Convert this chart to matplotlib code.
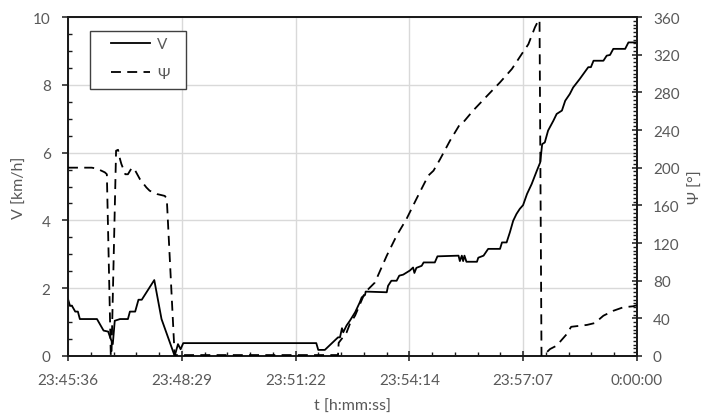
import matplotlib
matplotlib.use("Agg")
import matplotlib.pyplot as plt
from matplotlib.ticker import MultipleLocator, FuncFormatter
from matplotlib.patches import Rectangle
import numpy as np

plt.rcParams['font.family'] = ['Lato', 'DejaVu Sans']

# time origin: 23:45:36 (seconds after midnight)
t0_sec = 23 * 3600 + 45 * 60 + 36

# Speed V [km/h]; times in seconds after 23:45:36
t_v = [0, 3, 6, 11, 15, 18, 44, 54, 61, 64, 68, 71, 79, 91, 94, 102, 107, 112, 131, 142,
       162, 167, 171, 175, 377, 380, 390, 410, 413, 416, 418, 423, 428, 436, 443, 446, 451, 452,
       484, 486, 491, 499, 503, 509, 519, 524, 526, 529, 537, 540, 557, 561, 593, 595, 598, 600,
       602, 605, 621, 623, 631, 638, 656, 659, 666, 671, 676, 681, 686, 691, 697, 704, 712, 717,
       720, 724, 729, 737, 742, 750, 755, 762, 767, 777, 790, 794, 798, 813, 818, 823, 828, 846,
       851, 864]
v_kmh = [1.68, 1.48, 1.48, 1.31, 1.31, 1.09, 1.09, 0.75, 0.72, 0.55, 0.35, 1.04, 1.09, 1.09, 1.31,
         1.31, 1.66, 1.66, 2.24, 1.09, 0.0, 0.35, 0.2, 0.38, 0.38, 0.18, 0.18, 0.55, 0.55, 0.82, 0.7,
         0.9, 1.04, 1.29, 1.58, 1.73, 1.8, 1.9, 1.88, 2.07, 2.22, 2.22, 2.37, 2.4, 2.52, 2.61, 2.45,
         2.6, 2.66, 2.76, 2.76, 2.94, 2.96, 2.8, 2.96, 2.8, 2.96, 2.78, 2.78, 2.9, 2.96, 3.16, 3.16,
         3.35, 3.35, 3.65, 3.99, 4.19, 4.34, 4.45, 4.78, 5.07, 5.47, 5.71, 6.25, 6.3, 6.65, 6.94,
         7.14, 7.24, 7.53, 7.73, 7.92, 8.17, 8.52, 8.52, 8.71, 8.71, 8.86, 8.88, 9.06, 9.06, 9.25,
         9.25]

# Heading Psi [deg]; times in seconds after 23:45:36
t_psi = [0, 36, 44, 56, 59, 65, 66, 73, 76, 79, 81, 87, 91, 97, 102, 109, 119, 124, 135, 147, 150,
         162, 164, 410, 411, 423, 428, 436, 451, 456, 466, 484, 499, 514, 529, 547, 555, 565, 580,
         595, 600, 615, 636, 656, 674, 689, 699, 709, 714, 716, 719, 724, 732, 742, 757, 764, 788,
         800, 813, 828, 843, 858, 864]
psi_deg = [200, 200, 199, 195, 193, 0, 0, 218, 219, 209, 204, 193, 193, 200, 197, 188, 179, 175.5,
           172, 170, 167, 0, 1, 1, 14, 25, 34, 43, 67.6, 71, 78, 106.5, 127.8, 145.5, 166.7, 191.5,
           196.8, 209, 228.6, 246, 248, 260.5, 276, 290.6, 304.8, 320.7, 331, 349, 356, 357, 0, 2,
           7.4, 11, 23, 31, 33, 35, 42.8, 48, 51.7, 52.8, 54]

x_label = "t [h:mm:ss]"
y_label_left = "V [km/h]"
y_label_right = "Ψ [°]"
legend_labels = ["V", "Ψ"]

def to_day(ts):
    return (t0_sec + np.asarray(ts, dtype=float)) / 86400.0

def fmt_time(x, pos=None):
    s = int(round(x * 86400)) % 86400
    h, rem = divmod(s, 3600)
    m, sec = divmod(rem, 60)
    return f"{h}:{m:02d}:{sec:02d}"

label_color = '#595959'
W, H = 704, 414
L, R, T, B = 68, 637, 18, 357
fig = plt.figure(figsize=(W / 100, H / 100), dpi=100)
ax = fig.add_axes([L / W, 1 - B / H, (R - L) / W, (B - T) / H])
ax2 = ax.twinx()

l1, = ax.plot(to_day(t_v), v_kmh, color='black', lw=1.3, solid_joinstyle='round', zorder=3)
l2, = ax2.plot(to_day(t_psi), psi_deg, color='black', lw=1.3, dashes=(5.5, 3.5), zorder=3)

ax.set_xlim(0.99, 1.0)
ax.set_ylim(0, 10)
ax2.set_ylim(0, 360)

ax.xaxis.set_major_locator(MultipleLocator(0.002))
ax.xaxis.set_minor_locator(MultipleLocator(0.0004))
ax.xaxis.set_major_formatter(FuncFormatter(fmt_time))
ax.yaxis.set_major_locator(MultipleLocator(2))
ax.yaxis.set_minor_locator(MultipleLocator(0.5))
ax2.yaxis.set_major_locator(MultipleLocator(40))
ax2.yaxis.set_minor_locator(MultipleLocator(4))

ax.grid(True, which='major', color='#d9d9d9', lw=1.0, zorder=0)
ax.set_axisbelow(True)

for a in (ax, ax2):
    for sp in a.spines.values():
        sp.set_color('#1a1a1a')
        sp.set_linewidth(1.3)

ax.tick_params(axis='x', which='major', direction='inout', length=7, width=1.1,
               color='#1a1a1a', labelcolor=label_color, labelsize=11, pad=9)
ax.tick_params(axis='x', which='minor', direction='in', length=3, width=1.0, color='#1a1a1a')
ax.tick_params(axis='y', which='major', direction='out', length=4, width=1.1,
               color='#1a1a1a', labelcolor=label_color, labelsize=11, pad=8.5)
ax.tick_params(axis='y', which='minor', direction='in', length=3, width=1.0, color='#1a1a1a')
ax2.tick_params(axis='y', which='major', direction='inout', length=7, width=1.1,
                color='#1a1a1a', labelcolor=label_color, labelsize=11, pad=8)
ax2.tick_params(axis='y', which='minor', direction='in', length=3, width=1.0, color='#1a1a1a')

ax.set_xlabel(x_label, color=label_color, fontsize=11.5, labelpad=8)
ax.set_ylabel(y_label_left, color=label_color, fontsize=11.5, labelpad=4)
ax2.set_ylabel(y_label_right, color=label_color, fontsize=11.5, labelpad=6.5, rotation=90)

# legend: frame drawn separately, entries placed inside
fx = lambda px: (px - L) / (R - L)
fy = lambda py: (B - py) / (B - T)
frame = Rectangle((fx(90), fy(90)), fx(186) - fx(90), fy(32) - fy(90), transform=ax.transAxes,
                  facecolor='white', edgecolor='#404040', lw=1.0, zorder=6, clip_on=False)
ax.add_patch(frame)
leg = ax.legend([l1, l2], legend_labels, loc='center left',
                bbox_to_anchor=(fx(111), fy(60)), borderaxespad=0, borderpad=0,
                frameon=False, fontsize=11, handlelength=2.55, labelspacing=1.0,
                handletextpad=0.45)
for txt in leg.get_texts():
    txt.set_color(label_color)
leg.set_zorder(7)

fig.savefig('out.png', dpi=100)
